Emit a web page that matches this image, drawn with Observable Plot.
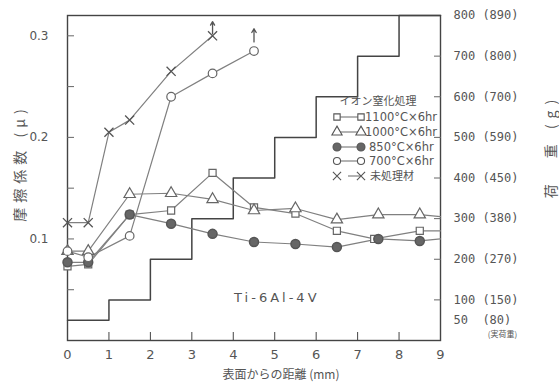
<!DOCTYPE html>
<html><head><meta charset="utf-8">
<script src="https://cdn.jsdelivr.net/npm/d3@7"></script>
<script src="https://cdn.jsdelivr.net/npm/@observablehq/plot@0.6"></script>
<style>
body{margin:0;background:#fff}
#chart svg{font-family:"DejaVu Sans","Noto Sans CJK JP",sans-serif}
</style>
</head><body><div id="chart"></div>
<script>
// ---- data ----
const xTicks = [0,1,2,3,4,5,6,7,8,9];
const muLabelTicks = [0.1,0.2,0.3];
const muMinorTicks = [0.05,0.1,0.15,0.2,0.25,0.3];
const loadTicks = [800,700,600,500,400,300,200,100,50];
const loadLabels = ["800 (890)","700 (800)","600 (700)","500 (590)","400 (450)","300 (380)","200 (270)","100 (150)","50\u00a0\u00a0(80)"];
const loadTickMarks = [100,200,300,400,500,600,700];
const stepX = [0,1,2,3,4,5,6,7,8,9];
const stepLoad = [50,100,200,300,400,500,600,700,800,800];

const x1100 = [0,0.5,1.5,2.5,3.5,4.5,5.5,6.5,7.4,8.5,9];
const mu1100 = [0.073,0.075,0.124,0.128,0.165,0.131,0.125,0.108,0.100,0.108,0.108];
const x1000 = [0,0.5,1.5,2.5,3.5,4.5,5.5,6.5,7.5,8.5,9];
const mu1000 = [0.088,0.088,0.144,0.145,0.139,0.128,0.130,0.119,0.124,0.124,0.122];
const x850 = [0,0.5,1.5,2.5,3.5,4.5,5.5,6.5,7.5,8.5,9];
const mu850 = [0.077,0.077,0.124,0.115,0.105,0.097,0.095,0.092,0.100,0.098,0.100];
const x700 = [0,0.5,1.5,2.5,3.5,4.5];
const mu700 = [0.088,0.082,0.103,0.240,0.263,0.285];
const xRaw = [0,0.5,1,1.5,2.5,3.5];
const muRaw = [0.116,0.116,0.205,0.217,0.265,0.300];

const arrowX = [3.5,4.5];
const arrowFrom = [0.302,0.294];
const arrowTo = [0.314,0.307];

const seriesNames = ["1100°C×6hr","1000°C×6hr","850°C×6hr","700°C×6hr","未処理材"];
const legendTitle = "イオン窒化処理";
const alloyLabel = "Ti-6Al-4V";
const alloyPos = [{x:5.05, y:0.042}];
const xTitle = "表面からの距離 (mm)";
const yTitle = "摩擦係数 (μ)";
const y2Title = "荷\u3000重 (g)";
const y2Note = "(実荷重)";

const LOAD_PER_MU = 2500;
const toRows = (xs, ys) => xs.map((x,i)=>({x, y: ys[i]}));
const s1100 = toRows(x1100, mu1100), s1000 = toRows(x1000, mu1000),
      s850 = toRows(x850, mu850), s700 = toRows(x700, mu700), sRaw = toRows(xRaw, muRaw);
const step = stepX.map((x,i)=>({x, y: stepLoad[i]/LOAD_PER_MU}));
const loadMap = new Map(loadTicks.map((v,i)=>[v/LOAD_PER_MU, loadLabels[i]]));
const arrows = arrowX.map((x,i)=>({x, y1: arrowFrom[i], y2: arrowTo[i]}));
const markers = d => d.x < 9;

const lineC = "#808080", ink = "#555";
const chart = Plot.plot({
  width: 559, height: 385,
  marginLeft: 67, marginRight: 119, marginTop: 15, marginBottom: 45,
  x: {domain: [0,9]},
  y: {domain: [0,0.32]},
  style: {color: ink, background: "white", fontSize: "12px"},
  marks: [
    Plot.frame({stroke: "#444", strokeWidth: 1.4}),
    Plot.axisX({ticks: xTicks, tickSize: -8, tickFormat: () => "", label: null, stroke: "#444"}),
    Plot.axisX({ticks: xTicks, tickSize: 0, tickPadding: 9, fontSize: 13, label: null}),
    Plot.axisY({ticks: muMinorTicks, tickSize: -7, tickFormat: () => "", label: null, stroke: "#666"}),
    Plot.axisY({ticks: muLabelTicks, tickSize: 0, tickPadding: 19, tickFormat: d => d.toFixed(1), label: null, fontSize: 12}),
    Plot.axisY({anchor: "right", ticks: loadTickMarks.map(v=>v/LOAD_PER_MU), tickSize: -7, tickFormat: () => "", label: null, stroke: "#666"}),
    Plot.axisY({anchor: "right", ticks: loadTicks.map(v=>v/LOAD_PER_MU), tickSize: 0, tickPadding: 13,
      tickFormat: d => loadMap.get(d), label: null, fontSize: 12, fontFamily: "DejaVu Sans Mono", textAnchor: "start"}),
    Plot.text([y2Note], {x: 9, y: 50/LOAD_PER_MU, dx: 62, dy: 14, fontSize: 8, fontFamily: "Noto Sans CJK JP", fill: ink}),
    Plot.text([xTitle], {frameAnchor: "bottom", textAnchor: "middle", dx: 27, dy: 38, fontSize: 12, fontFamily: "Noto Sans CJK JP", fill: ink}),
    Plot.text([yTitle], {frameAnchor: "left", textAnchor: "middle", dx: -47, dy: -15, rotate: -90, fontSize: 14, fontFamily: "Noto Sans CJK JP", fill: ink}),
    Plot.text([y2Title], {frameAnchor: "right", textAnchor: "middle", dx: 111, dy: -32, rotate: -90, fontSize: 14, fontFamily: "Noto Sans CJK JP", fill: ink}),
    Plot.text(alloyPos, {x: "x", y: "y", text: () => alloyLabel, fontSize: 13, fill: ink}),
    Plot.line(step, {x: "x", y: "y", curve: "step-after", stroke: "#444", strokeWidth: 1.5}),
    Plot.line(s1100, {x: "x", y: "y", stroke: lineC, strokeWidth: 1.2}),
    Plot.line(s1000, {x: "x", y: "y", stroke: lineC, strokeWidth: 1.2}),
    Plot.line(s850, {x: "x", y: "y", stroke: lineC, strokeWidth: 1.2}),
    Plot.line(s700, {x: "x", y: "y", stroke: lineC, strokeWidth: 1.2}),
    Plot.line(sRaw, {x: "x", y: "y", stroke: lineC, strokeWidth: 1.2}),
    Plot.arrow(arrows, {x: "x", y1: "y1", y2: "y2", stroke: "#555", strokeWidth: 1.3, headLength: 6}),
    Plot.dot(s1100.filter(markers), {x: "x", y: "y", symbol: "square", r: 4, fill: "white", stroke: "#666", strokeWidth: 1.2}),
    Plot.dot(s1000.filter(markers), {x: "x", y: "y", symbol: "triangle", r: 4.2, fill: "white", stroke: "#666", strokeWidth: 1.2}),
    Plot.dot(s850.filter(markers), {x: "x", y: "y", symbol: "circle", r: 4.5, fill: "#666", stroke: "#555"}),
    Plot.dot(s700, {x: "x", y: "y", symbol: "circle", r: 4.3, fill: "white", stroke: "#666", strokeWidth: 1.2}),
    Plot.dot(sRaw, {x: "x", y: "y", symbol: "times", r: 4.2, stroke: "#555", strokeWidth: 1.3})
  ]
});
document.getElementById("chart").appendChild(chart);

const svg = d3.select(chart);
// letter spacing for a few labels
const spacing = new Map([[yTitle, "5px"], [y2Title, "6px"], [alloyLabel, "3px"]]);
svg.selectAll("text").each(function() {
  const s = spacing.get(this.textContent);
  if (s) d3.select(this).style("letter-spacing", s);
});

// ---- legend (inside frame, upper right) ----
const lg = svg.append("g").attr("fill", ink).attr("font-size", 12).attr("text-anchor", "start");
lg.append("text").attr("x", 378).attr("y", 101).attr("dy", "0.35em").attr("text-anchor", "middle")
  .attr("font-family", "Noto Sans CJK JP").attr("font-size", 11).text(legendTitle);
const rowY = [117,132,147,161,176];
const symGen = [d3.symbolSquare, d3.symbolTriangle, d3.symbolCircle, d3.symbolCircle, d3.symbolTimes];
const symFill = ["white","white","#666","white","none"];
const symSize = [40,45,50,40,45];
rowY.forEach((y,i) => {
  const xa = 337, xb = 361;
  lg.append("line").attr("x1", i===4 ? 348 : xa).attr("x2", xb).attr("y1", y).attr("y2", y).attr("stroke", lineC).attr("stroke-width", 1.2);
  [xa, xb].forEach(xx => lg.append("path").attr("d", d3.symbol(symGen[i], symSize[i])())
    .attr("transform", `translate(${xx},${y})`).attr("fill", symFill[i]).attr("stroke", "#555").attr("stroke-width", 1.1));
  lg.append("text").attr("x", i===4 ? 370 : (i>=2 ? 369 : 365)).attr("y", y).attr("dy", "0.35em")
    .attr("font-family", i===4 ? "Noto Sans CJK JP" : "DejaVu Sans").attr("font-size", i===4 ? 11 : 11.5)
    .text(seriesNames[i]);
});
</script>
</body></html>
